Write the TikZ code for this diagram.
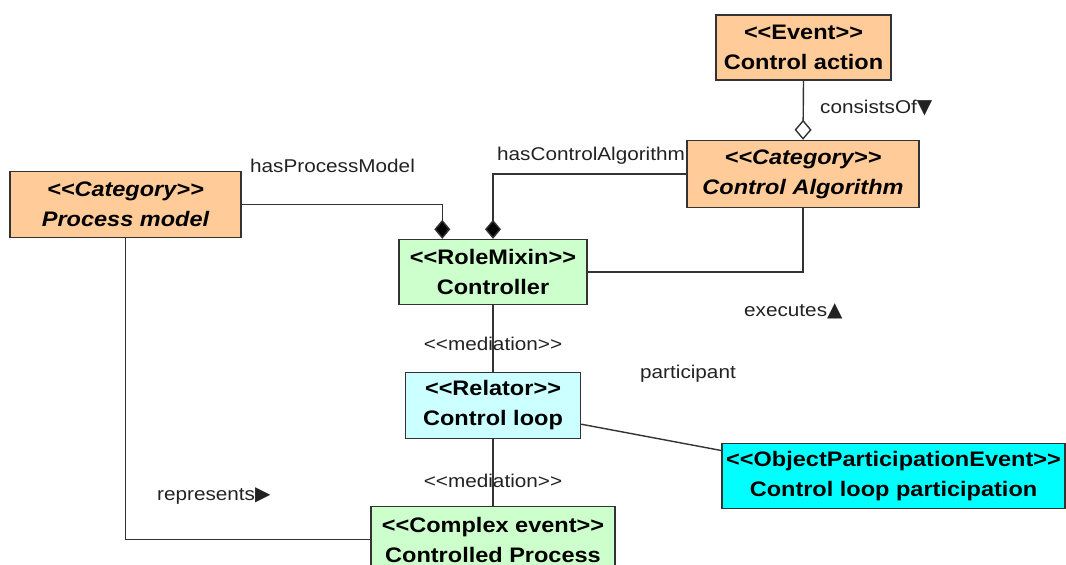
\documentclass[tikz,border=0pt]{standalone}
\usepackage{fontspec}
\setmainfont{Liberation Sans}[FakeStretch=1.12,Ligatures=TeXOff]
\newfontfamily\symfont{DejaVu Sans}
\usetikzlibrary{arrows.meta,calc}

\definecolor{peach}{HTML}{FFCC99}
\definecolor{mint}{HTML}{CCFFCC}
\definecolor{icecyan}{HTML}{CCFFFF}
\definecolor{brightcyan}{HTML}{00FFFF}
\definecolor{edgegray}{HTML}{333333}
\definecolor{lblgray}{HTML}{222222}

\newcommand\boxfont{\fontsize{21}{30}\selectfont\bfseries}
\newcommand\lblfont{\fontsize{18.5}{22}\selectfont}
\newcommand\tri[1]{{\symfont\fontsize{20}{20}\selectfont #1}}

\tikzset{
  cls/.style={draw=edgegray, line width=1.4pt, align=center, inner sep=0pt,
              font=\boxfont, text=black},
  lbl/.style={font=\lblfont, text=lblgray, inner sep=0pt},
  assoc/.style={draw=edgegray, line width=1.4pt},
  compo/.style={assoc, -{Diamond[length=19pt,width=16pt,fill=black]}},
  aggr/.style={assoc, -{Diamond[open,length=20pt,width=17pt,fill=white]}},
}

\begin{document}
\begin{tikzpicture}[x=1pt,y=-1pt]
\useasboundingbox (0,0) rectangle (1066,565);
\clip (0,0) rectangle (1066,565);

% classes
\node[cls, fill=peach, minimum width=175pt, minimum height=65pt]
  (ev) at (803.5,47.5) {<<Event>>\\Control action};
\node[cls, fill=peach, minimum width=232pt, minimum height=67pt]
  (alg) at (803,174) {\itshape <<Category>>\\\itshape Control Algorithm};
\node[cls, fill=peach, minimum width=231pt, minimum height=66pt]
  (pm) at (125.5,204.5) {\itshape <<Category>>\\\itshape Process model};
\node[cls, fill=mint, minimum width=188pt, minimum height=65pt]
  (ctl) at (493,272) {<<RoleMixin>>\\Controller};
\node[cls, fill=icecyan, minimum width=175pt, minimum height=66pt]
  (loop) at (493,405.5) {<<Relator>>\\Control loop};
\node[cls, fill=mint, minimum width=244pt, minimum height=66pt]
  (cp) at (493,539.5) {<<Complex event>>\\Controlled Process};
\node[cls, fill=brightcyan, minimum width=343pt, minimum height=65pt]
  (ope) at (893.5,476) {<<ObjectParticipationEvent>>\\Control loop participation};

% relations
\draw[aggr] (ev.south) -- (alg.north);
\draw[compo] (pm.east) -| ($(ctl.north west)+(44,0)$);
\draw[compo] (alg.west) -| (ctl.north);
\draw[assoc] (ctl.east) -| (alg.south);
\draw[assoc] (ctl.south) -- (loop.north);
\draw[assoc] (loop.south) -- (cp.north);
\draw[assoc] ($(loop.south east)+(0,-15)$) -- ($(ope.west)+(0,-25.5)$);
\draw[assoc] (pm.south) |- (cp.west);

% relation labels
\node[lbl, anchor=west] (l1) at (250,166) {hasProcessModel};
\node[lbl, anchor=west] (l2) at (497,156) {hasControlAlgorithm};
\node[lbl, anchor=west] (l3) at (820,108) {consistsOf\tri{▼}};
\node[lbl, anchor=west] (l4) at (744,311) {executes\tri{▲}};
\node[lbl, anchor=west] (l5) at (640,374) {participant};
\node[lbl] (l6) at (493,344) {<<mediation>>};
\node[lbl] (l7) at (493,481) {<<mediation>>};
\node[lbl, anchor=west] (l8) at (157,496) {represents\tri{▶}};
\end{tikzpicture}
\end{document}
